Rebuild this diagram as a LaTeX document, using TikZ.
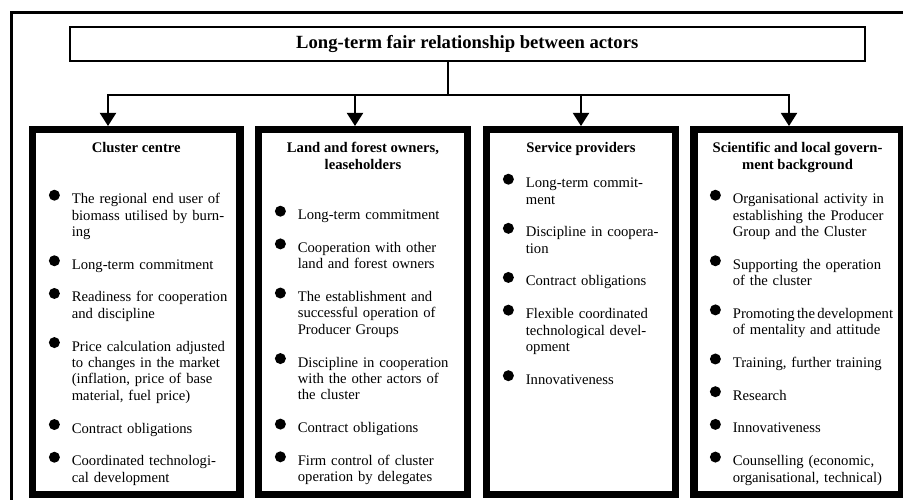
\documentclass[tikz,border=0pt]{standalone}
\usepackage{fontspec}
\setmainfont{Liberation Serif}
\usetikzlibrary{arrows.meta}

% round dot used as list label
\newcommand{\bigdot}{\tikz[baseline={(0pt,-5.8pt)}]\fill (0pt,0pt) circle (3.75pt);}
\newenvironment{dotlist}{%
  \begin{list}{\makebox[0pt][c]{\strut\smash{\bigdot}}}{%
    \setlength{\leftmargin}{23.9pt}%
    \setlength{\labelwidth}{0pt}%
    \setlength{\labelsep}{11.9pt}%
    \setlength{\itemsep}{11.1pt}%
    \setlength{\parsep}{0pt}%
    \setlength{\topsep}{0pt}%
    \setlength{\partopsep}{0pt}}}%
  {\end{list}}

\begin{document}
\begin{tikzpicture}[x=0.682pt, y=-0.682pt,
  outerframe/.style={draw, line width=2pt},
  topbox/.style={draw, line width=1.4pt, inner sep=0pt, minimum width=541.9pt,
    minimum height=23.2pt, font=\fontsize{12.7}{15}\selectfont\bfseries},
  actor/.style={draw, line width=5.1pt, outer sep=2.55pt, minimum height=248.6pt},
  heading/.style={anchor=north, align=center, inner sep=0pt,
    font=\fontsize{10}{11.6}\selectfont\bfseries},
  items/.style={anchor=north west, inner sep=0pt, text width=140pt, align=left,
    font=\fontsize{10}{11.2}\selectfont},
  link/.style={line width=1.4pt, line cap=rect},
  feed/.style={line width=1.4pt, -{Triangle[length=8.9pt, width=10.9pt]}}]

\useasboundingbox (0,0) rectangle (903,499);
\clip (0,0) rectangle (903,499);
\draw[outerframe] (11.5,12.5) rectangle (930,530);

\node[topbox] (goal) at (467.25,44) {Long-term fair relationship between actors};

% the four actors
\node[actor, minimum width=141.2pt] (centre) at (136.25,312) {};
\node[actor, minimum width=142.2pt] (owners) at (363,312) {};
\node[actor, minimum width=128.6pt] (services) at (581,312) {};
\node[actor, minimum width=141.5pt] (science) at (797.5,312) {};

% connectors
\coordinate (split) at (448,95);
\coordinate (a1) at (108,95);
\coordinate (a2) at (355,95);
\coordinate (a3) at (581,95);
\coordinate (a4) at (789,95);
\draw[link] (goal.south -| split) -- (split);
\draw[link] (a1) -- (a4);
\draw[feed] (a1) -- (a1 |- centre.north);
\draw[feed] (a2) -- (a2 |- owners.north);
\draw[feed] (a3) -- (a3 |- services.north);
\draw[feed] (a4) -- (a4 |- science.north);

% headings
\node[heading] (centrehead) at (136.25,140.6) {\strut Cluster centre};
\node[heading] (ownershead) at (363,140.6) {\strut Land and forest owners,\\leaseholders};
\node[heading] (serviceshead) at (581,140.6) {\strut Service providers};
\node[heading] (sciencehead) at (797.5,140.6) {\strut Scientific and local govern-\\ment background};

% lists
\node[items] (centrelist) at (36.5,187) {\begin{dotlist}
  \item The regional end user of\\biomass utilised by burn-\\ing
  \item Long-term commitment
  \item Readiness for cooperation\\and discipline
  \item Price calculation adjusted\\to changes in the market\\(inflation, price of base\\material, fuel price)
  \item Contract obligations
  \item Coordinated technologi-\\cal development
\end{dotlist}};
\node[items] (ownerslist) at (262.5,203) {\begin{dotlist}
  \item Long-term commitment
  \item Cooperation with other\\land and forest owners
  \item The establishment and\\successful operation of\\Producer Groups
  \item Discipline in cooperation\\with the other actors of\\the cluster
  \item Contract obligations
  \item Firm control of cluster\\operation by delegates
\end{dotlist}};
\node[items] (serviceslist) at (490.5,171) {\begin{dotlist}
  \item Long-term commit-\\ment
  \item Discipline in coopera-\\tion
  \item Contract obligations
  \item Flexible coordinated\\technological devel-\\opment
  \item Innovativeness
\end{dotlist}};
\node[items] (sciencelist) at (697.5,187) {\begin{dotlist}
  \item Organisational activity in\\establishing the Producer\\Group and the Cluster
  \item Supporting the operation\\of the cluster
  \item Promoting\hspace{1.6pt}the\hspace{1.6pt}development\\of mentality and attitude
  \item Training, further training
  \item Research
  \item Innovativeness
  \item Counselling (economic,\\organisational, technical)
\end{dotlist}};
\end{tikzpicture}
\end{document}
